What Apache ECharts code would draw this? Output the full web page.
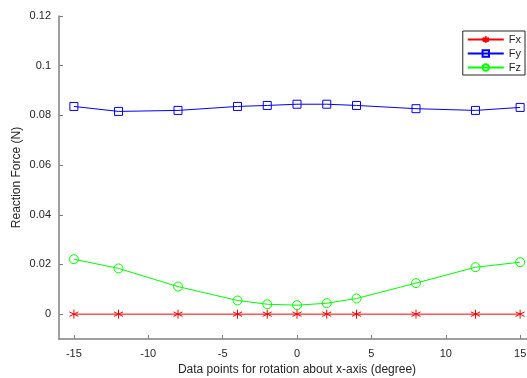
<!DOCTYPE html>
<html>
<head>
<meta charset="utf-8">
<script src="https://cdn.jsdelivr.net/npm/echarts@6/dist/echarts.min.js"></script>
<style>
html,body{margin:0;padding:0;background:#fff;}
#main{width:527px;height:378px;}
</style>
</head>
<body>
<div id="main"></div>
<script>
// rotation angles about x-axis (degree)
var angles = [-15, -12, -8, -4, -2, 0, 2, 4, 8, 12, 15];
// reaction forces (N)
var fx = [0, 0, 0, 0, 0, 0, 0, 0, 0, 0, 0];
var fy = [0.0836, 0.0816, 0.0820, 0.0836, 0.0840, 0.0845, 0.0845, 0.0840, 0.0827, 0.0820, 0.0832];
var fz = [0.0221, 0.0184, 0.0111, 0.0055, 0.0040, 0.0036, 0.0044, 0.0063, 0.0125, 0.0189, 0.0209];
var seriesNames = ['Fx', 'Fy', 'Fz'];
var seriesColors = ['#ff0000', '#0000ff', '#00ff00'];
var xTicks = [-15, -10, -5, 0, 5, 10, 15];
var yTicks = [0, 0.02, 0.04, 0.06, 0.08, 0.1, 0.12];

function pairs(vals){
	var out = [];
	for (var i = 0; i < angles.length; i++) {
		out.push([angles[i], vals[i]]);
	}
	return out;
}

var star = 'path://M0,-10L0,10M-8.66,-5L8.66,5M-8.66,5L8.66,-5';
var axisColor = '#808080';
var txtColor = '#262626';
var fontFam = '"Liberation Sans", Arial, sans-serif';

var chart = echarts.init(document.getElementById('main'));
chart.setOption({
	animation: false,
	backgroundColor: '#fff',
	grid: {left: 59, right: -8, top: 16, bottom: 39, outerBoundsMode: 'none'},
	legend: {
		data: seriesNames,
		orient: 'vertical',
		right: 2,
		top: 31,
		borderColor: txtColor,
		borderWidth: 1,
		borderRadius: 0,
		padding: [3, 4, 2, 4],
		itemGap: 3,
		itemWidth: 36,
		itemHeight: 8,
		textStyle: {fontSize: 11, color: txtColor, fontFamily: fontFam}
	},
	xAxis: {
		type: 'value',
		min: -16,
		max: 16,
		name: 'Data points for rotation about x-axis (degree)',
		nameLocation: 'middle',
		nameGap: 23,
		nameTextStyle: {fontSize: 12, color: txtColor, fontFamily: fontFam},
		splitLine: {show: false},
		axisLine: {onZero: false, lineStyle: {color: axisColor, width: 1.5}},
		axisTick: {inside: true, length: 4, lineStyle: {color: axisColor}, customValues: xTicks},
		axisLabel: {margin: 9, fontSize: 11, color: txtColor, fontFamily: fontFam, customValues: xTicks}
	},
	yAxis: {
		type: 'value',
		min: -0.01,
		max: 0.12,
		name: 'Reaction Force (N)',
		nameLocation: 'middle',
		nameGap: 36,
		nameMoveOverlap: false,
		nameTextStyle: {fontSize: 12, color: txtColor, fontFamily: fontFam},
		splitLine: {show: false},
		axisLine: {show: true, onZero: false, lineStyle: {color: axisColor, width: 1.5}},
		axisTick: {show: true, inside: true, length: 4, lineStyle: {color: axisColor}, customValues: yTicks},
		axisLabel: {margin: 8, fontSize: 11, color: txtColor, fontFamily: fontFam, customValues: yTicks}
	},
	series: [
		{
			name: 'Fx', type: 'line', data: pairs(fx),
			symbol: star, symbolSize: 9,
			lineStyle: {color: seriesColors[0], width: 1},
			itemStyle: {color: seriesColors[0], borderColor: seriesColors[0], borderWidth: 1}
		},
		{
			name: 'Fy', type: 'line', data: pairs(fy),
			symbol: 'rect', symbolSize: 8,
			lineStyle: {color: seriesColors[1], width: 1},
			itemStyle: {color: 'rgba(0,0,0,0)', borderColor: seriesColors[1], borderWidth: 1}
		},
		{
			name: 'Fz', type: 'line', data: pairs(fz),
			symbol: 'circle', symbolSize: 9,
			lineStyle: {color: seriesColors[2], width: 1},
			itemStyle: {color: 'rgba(0,0,0,0)', borderColor: seriesColors[2], borderWidth: 1}
		}
	]
});
</script>
</body>
</html>
